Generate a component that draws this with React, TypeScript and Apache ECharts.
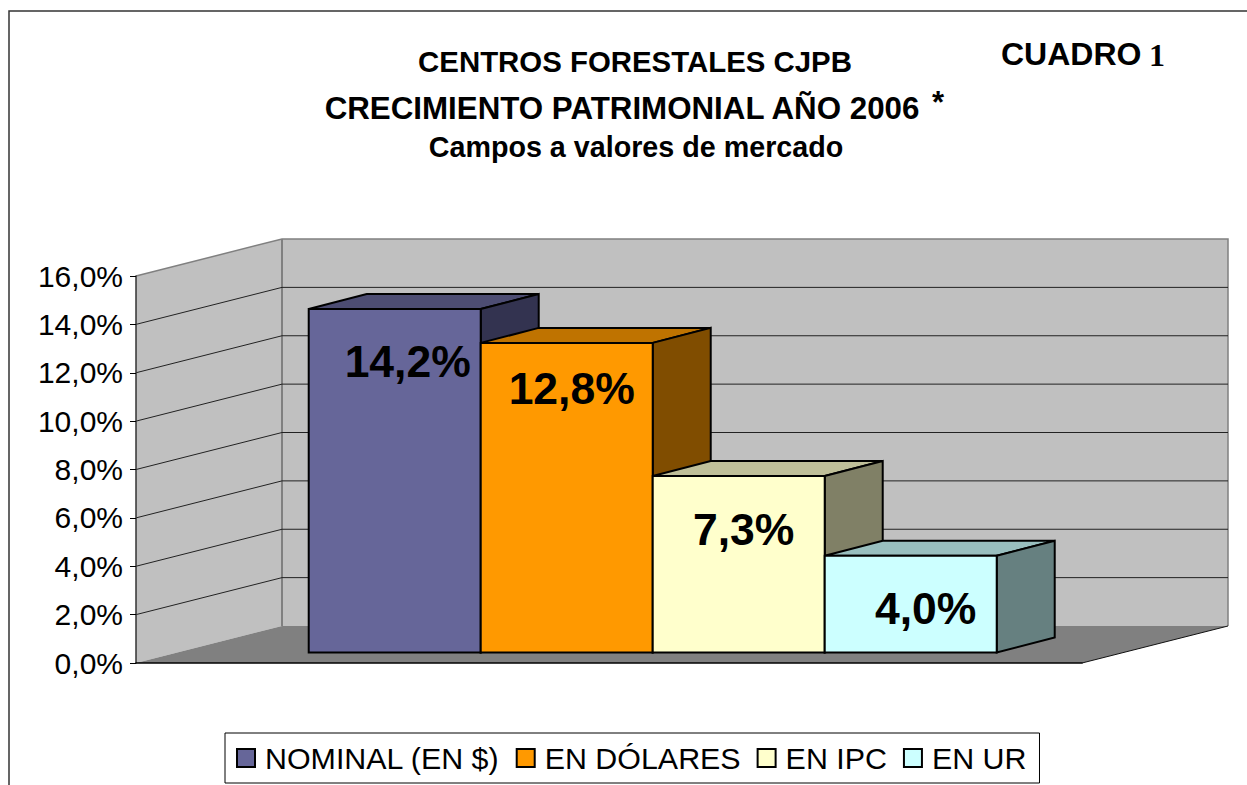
import React, { useEffect, useRef } from "react";
import * as echarts from "echarts";

const seriesNames = ["NOMINAL (EN $)", "EN DÓLARES", "EN IPC", "EN UR"];
const seriesValues = [14.2, 12.8, 7.3, 4.0];
const frontColors = ["#666699", "#FF9900", "#FFFFCC", "#CCFFFF"];
const topColors = ["#4D4D73", "#BF7300", "#BFBF99", "#99BFBF"];
const sideColors = ["#333350", "#804D00", "#808066", "#668080"];
const yTicks = [2, 4, 6, 8, 10, 12, 14];
const labelShift = [[13, 52], [5, 46], [5, 54], [15, 53]];

const SANS = "Liberation Sans";
const X_MIN = -0.76;
const X_MAX = 4.74;
const Y_MAX = 16;
const WALL_DX = 146;
const WALL_DY = -37;
const PLANE_DX = 42;
const PLANE_DY = -10.5;
const BAR_DX = 58;
const BAR_DY = -15;

const pts = (...p: number[][]) => ({ points: p });

function renderWalls(_: any, api: any) {
  const a = api.coord([X_MIN, 0]);
  const b = api.coord([X_MAX, 0]);
  const c = api.coord([X_MIN, Y_MAX]);
  const back = (p: number[]) => [p[0] + WALL_DX, p[1] + WALL_DY];
  const grey = "#808080";
  return {
    type: "group",
    children: [
      { type: "polygon", shape: pts(a, c, back(c), back(a)), style: { fill: "#C0C0C0", stroke: "none" } },
      { type: "polygon", shape: pts(back(a), back(c), [back(b)[0], back(c)[1]], back(b)), style: { fill: "#C0C0C0", stroke: "none" } },
      { type: "polygon", shape: pts(a, back(a), back(b), b), style: { fill: grey, stroke: "none" } },
      { type: "polyline", shape: pts(c, back(c), [back(b)[0], back(c)[1]], back(b)), style: { fill: "none", stroke: grey, lineWidth: 1.5 } },
      { type: "line", shape: { x1: back(a)[0], y1: back(a)[1], x2: back(c)[0], y2: back(c)[1] }, style: { stroke: grey, lineWidth: 2 } },
      { type: "line", shape: { x1: b[0], y1: b[1], x2: back(b)[0], y2: back(b)[1] }, style: { stroke: "#111", lineWidth: 1 } },
    ],
  };
}

function renderGrid(_: any, api: any) {
  const p = api.coord([X_MIN, api.value(0)]);
  const r = api.coord([X_MAX, api.value(0)]);
  return {
    type: "polyline",
    shape: pts(p, [p[0] + WALL_DX, p[1] + WALL_DY], [r[0] + WALL_DX, r[1] + WALL_DY]),
    style: { fill: "none", stroke: "#222", lineWidth: 1 },
  };
}

function makeBar(index: number) {
  return (_: any, api: any) => {
    const x = api.value(0);
    const v = api.value(1);
    const tl0 = api.coord([x, v]);
    const br0 = api.coord([x + 1, 0]);
    const l = tl0[0] + PLANE_DX;
    const t = tl0[1] + PLANE_DY;
    const r = br0[0] + PLANE_DX;
    const b = br0[1] + PLANE_DY;
    const line = { stroke: "#000", lineWidth: 2, lineJoin: "miter" };
    return {
      type: "group",
      children: [
        { type: "polygon", shape: pts([l, t], [l + BAR_DX, t + BAR_DY], [r + BAR_DX, t + BAR_DY], [r, t]), style: { fill: topColors[index], ...line } },
        { type: "polygon", shape: pts([r, t], [r + BAR_DX, t + BAR_DY], [r + BAR_DX, b + BAR_DY], [r, b]), style: { fill: sideColors[index], ...line } },
        { type: "rect", shape: { x: l, y: t, width: r - l, height: b - t }, style: { fill: frontColors[index], ...line } },
        {
          type: "text",
          z2: 10,
          style: {
            text: v.toFixed(1).replace(".", ",") + "%",
            x: (l + r) / 2 + labelShift[index][0],
            y: t + labelShift[index][1],
            align: "center",
            verticalAlign: "middle",
            fill: "#000",
            font: `bold 44.5px "${SANS}"`,
          },
        },
      ],
    };
  };
}

const titleText = (text: string, x: number, y: number, size: number, family = SANS, align = "center") => ({
  type: "text",
  x,
  y,
  style: { text, align, verticalAlign: "middle", fill: "#000", font: `bold ${size}px "${family}"` },
});

export default function App() {
  const ref = useRef<HTMLDivElement>(null);
  useEffect(() => {
    const chart = echarts.init(ref.current!, null, { renderer: "svg" });
    chart.setOption({
      animation: false,
      backgroundColor: "#fff",
      grid: { left: 136, top: 276, width: 946, height: 387, containLabel: false },
      xAxis: {
        type: "value",
        min: X_MIN,
        max: X_MAX,
        z: 10,
        axisLine: { show: true, onZero: false, lineStyle: { color: "#000", width: 1.5 } },
        axisTick: { show: false },
        axisLabel: { show: false },
        splitLine: { show: false },
      },
      yAxis: {
        type: "value",
        min: 0,
        max: Y_MAX,
        interval: 2,
        z: 10,
        axisLine: { show: true, onZero: false, lineStyle: { color: "#333", width: 1.5 } },
        axisTick: { show: true, length: 6, lineStyle: { color: "#000", width: 1 } },
        axisLabel: {
          margin: 13,
          fontFamily: SANS,
          fontSize: 30,
          color: "#000",
          formatter: (v: number) => v.toFixed(1).replace(".", ",") + "%",
        },
        splitLine: { show: false },
      },
      legend: {
        data: seriesNames,
        left: 225,
        top: 733,
        orient: "horizontal",
        icon: "rect",
        itemWidth: 18,
        itemHeight: 18,
        itemGap: 16,
        padding: [10, 13, 10, 11],
        borderColor: "#000",
        borderWidth: 1,
        selectedMode: false,
        itemStyle: { borderColor: "#000", borderWidth: 2 },
        textStyle: { fontFamily: SANS, fontSize: 30.4, color: "#000", padding: [0, 0, 0, 5] },
      },
      graphic: [
        {
          type: "polyline",
          shape: { points: [[1247, 11], [9, 11], [9, 785]] },
          style: { fill: "none", stroke: "#333", lineWidth: 1.5 },
        },
        titleText("CENTROS FORESTALES CJPB", 635, 61, 29.4),
        titleText("CRECIMIENTO PATRIMONIAL AÑO 2006", 622, 108, 31.3),
        titleText("*", 938, 102, 31),
        titleText("Campos a valores de mercado", 636, 147, 28.7),
        titleText("CUADRO", 1001, 54, 32, SANS, "left"),
        titleText("1", 1149, 55, 32, "Liberation Serif", "left"),
      ],
      series: [
        { type: "custom", name: "walls", silent: true, clip: false, z: 1, renderItem: renderWalls, data: [[0]], encode: { x: 0 } },
        { type: "custom", name: "grid", silent: true, clip: false, z: 1, renderItem: renderGrid, data: yTicks.map((t) => [t]), encode: { y: 0 } },
        ...seriesNames.map((name, i) => ({
          type: "custom",
          name,
          silent: true,
          clip: false,
          z: 2 + i,
          itemStyle: { color: frontColors[i] },
          renderItem: makeBar(i),
          data: [[i, seriesValues[i]]],
          encode: { x: 0, y: 1 },
        })),
      ],
    });
    return () => chart.dispose();
  }, []);
  return <div ref={ref} style={{ position: "fixed", left: 0, top: 0, width: 1247, height: 785 }} />;
}
